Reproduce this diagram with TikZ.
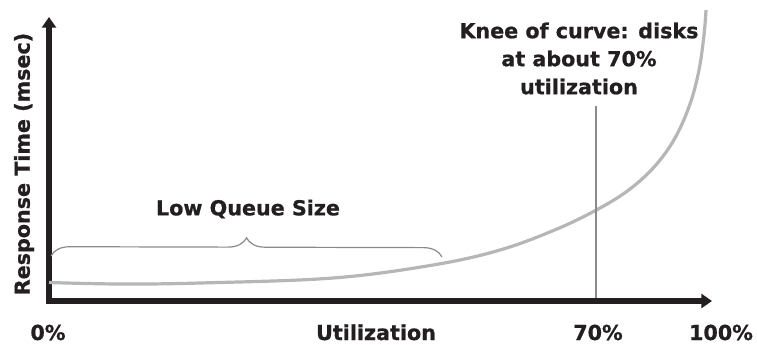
\documentclass[tikz,border=0pt]{standalone}
\usepackage{fontspec}
\setmainfont{DejaVu Sans}[BoldFeatures={FakeBold=0.8}]
\usepackage{tikz}
\usetikzlibrary{arrows.meta,positioning,calc,decorations.pathreplacing}
\usepackage{xcolor}
\definecolor{ink}{HTML}{231F20}
\definecolor{curvegray}{HTML}{B5B6B8}
\definecolor{markgray}{HTML}{8A8A8C}

\begin{document}
\begin{tikzpicture}[
    x=0.75pt, y=-0.75pt,
    every node/.style={text=ink, font=\fontsize{15.5}{21}\selectfont\bfseries},
    axis/.style={line width=3.8pt, draw=ink, line join=miter,
        {Triangle[length=8pt,width=10.5pt]}-{Triangle[length=8pt,width=10.5pt]}},
    response/.style={line width=2.4pt, draw=curvegray},
    kneeline/.style={line width=2.2pt, draw=markgray},
    bracket/.style={line width=0.9pt, draw=markgray,
        decorate, decoration={brace, amplitude=14pt}},
    ticklabel/.style={anchor=base}
]
    \useasboundingbox (0,0) rectangle (757,344);
    % axes
    \coordinate (ytop) at (49,17);
    \coordinate (origin) at (49,301);
    \coordinate (xend) at (712,301);
    \draw[axis] (ytop) -- (origin) -- (xend);

    % response time curve
    \draw[response] plot[smooth, tension=0.6] coordinates {
        (49,282.5) (120,284) (200,283) (333,278) (433,265) (500,250)
        (557,229) (600,208) (630,189) (655,166) (675,138) (690,104)
        (699,70) (704,35) (706,10)};

    % knee marker
    \coordinate (kneetop) at (596,106);
    \coordinate (kneefoot) at (596,298);
    \draw[kneeline] (kneetop) -- (kneefoot);

    % low queue brace
    \coordinate (bracel) at (51,256);
    \coordinate (bracer) at (442,257);
    \draw[bracket] (bracel) -- (bracer);

    % labels
    \node[rotate=90] (ylabel) at (24,164) {Response Time (msec)};
    \node[ticklabel] (zero) at (48,340) {0\%};
    \node[ticklabel] (xlabel) at (376,340) {Utilization};
    \node[ticklabel] (seventy) at (598,340) {70\%};
    \node[ticklabel] (hundred) at (721,340) {100\%};
    \node (queue) at (248,209) {Low Queue Size};
    \node[align=center] (knee) at (579,58.5) {Knee of curve: disks\\at about 70\%\\utilization};
\end{tikzpicture}
\end{document}
